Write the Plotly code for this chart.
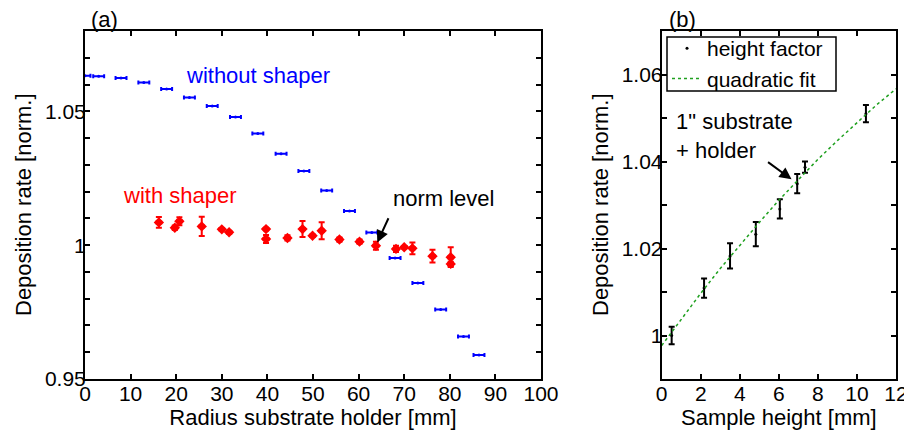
import plotly.graph_objects as go
from plotly.subplots import make_subplots

# (a) deposition rate vs radius, without shaper
radius_no_shaper = [0.0, 3.0, 7.9, 12.9, 17.9, 22.9, 27.9, 33.0, 37.9, 43.0, 48.0, 53.0,
                    58.0, 62.9, 68.0, 73.0, 78.0, 83.0, 86.4]
rate_no_shaper = [1.0633, 1.0631, 1.0624, 1.0608, 1.0583, 1.0552, 1.0520, 1.0479, 1.0417,
                  1.0341, 1.0277, 1.0204, 1.0128, 1.0047, 0.9952, 0.9859, 0.9760, 0.9659, 0.9590]
radius_err_no_shaper = [1.2] * len(radius_no_shaper)

# (a) with shaper
radius_shaper = [16.2, 20.7, 19.7, 25.6, 30.0, 31.6, 39.7, 39.7, 44.4, 47.7, 49.9, 51.9,
                 55.8, 60.2, 63.8, 68.2, 70.0, 71.8, 76.2, 80.2, 80.2]
rate_shaper = [1.0085, 1.0089, 1.0065, 1.0070, 1.0059, 1.0048, 1.0060, 1.0023, 1.0027,
               1.0060, 1.0035, 1.0054, 1.0021, 1.0013, 0.9998, 0.9986, 0.9992, 0.9988,
               0.9959, 0.9955, 0.9930]
rate_err_shaper = [0.0020, 0.0015, 0.0008, 0.0036, 0.0004, 0.0006, 0.0005, 0.0015, 0.0010,
                   0.0030, 0.0004, 0.0032, 0.0008, 0.0008, 0.0015, 0.0012, 0.0004, 0.0022,
                   0.0024, 0.0037, 0.0008]
radius_err_shaper = [0.5] * len(radius_shaper)

# (b) height factor
sample_height = [0.51, 2.17, 3.5, 4.82, 6.05, 6.94, 7.34, 10.46]
height_factor = [1.0000, 1.0109, 1.0183, 1.0233, 1.0291, 1.0349, 1.0387, 1.0510]
height_err = [0.0020, 0.0022, 0.0029, 0.0028, 0.0022, 0.0022, 0.0013, 0.0020]

# (b) quadratic fit
fit_height = [0, 1, 2, 3, 4, 5, 6, 7, 8, 9, 10, 11, 12]
fit_rate = [0.9977, 1.0038, 1.0097, 1.0154, 1.0208, 1.0260, 1.0311, 1.0359, 1.0405,
            1.0448, 1.0490, 1.0530, 1.0567]

# tick labels
a_yticks = [0.95, 0.96, 0.97, 0.98, 0.99, 1.0, 1.01, 1.02, 1.03, 1.04, 1.05, 1.06, 1.07, 1.08]
a_ylabels = ['0.95', '', '', '', '', '1', '', '', '', '', '1.05', '', '', '']
b_yticks = [0.99, 1.0, 1.01, 1.02, 1.03, 1.04, 1.05, 1.06, 1.07]
b_ylabels = ['', '1', '', '1.02', '', '1.04', '', '1.06', '']

FONT = "Liberation Sans, Arial, sans-serif"
W, H = 912, 435
OFF = 8  # page body margin in the browser


def px_x(p):
    return (p - OFF) / W


def px_y(p):
    return 1 - (p - OFF) / H


fig = make_subplots(rows=1, cols=2)

fig.add_trace(go.Scatter(
    x=radius_no_shaper, y=rate_no_shaper, mode='markers',
    marker=dict(color='blue', size=3),
    error_x=dict(type='data', array=radius_err_no_shaper, color='blue', thickness=2, width=2),
    showlegend=False), row=1, col=1)

fig.add_trace(go.Scatter(
    x=radius_shaper, y=rate_shaper, mode='markers',
    marker=dict(color='red', size=8, symbol='diamond'),
    error_x=dict(type='data', array=radius_err_shaper, color='red', thickness=2, width=2),
    error_y=dict(type='data', array=rate_err_shaper, color='red', thickness=2, width=3),
    showlegend=False), row=1, col=1)

fig.add_trace(go.Scatter(
    x=sample_height, y=height_factor, mode='markers', name='height factor',
    marker=dict(color='black', size=3),
    error_y=dict(type='data', array=height_err, color='black', thickness=2, width=3)),
    row=1, col=2)

fig.add_trace(go.Scatter(
    x=fit_height, y=fit_rate, mode='lines', name='quadratic fit',
    line=dict(color='#1fa01f', width=1.5, dash='dot')), row=1, col=2)

axis_style = dict(showline=True, linecolor='black', linewidth=2, mirror='ticks',
                  ticks='inside', ticklen=5, tickwidth=1.5, tickcolor='black',
                  showgrid=False, zeroline=False, automargin=False,
                  tickfont=dict(size=21, color='black'),
                  title_font=dict(size=22, color='black'))

fig.update_xaxes(axis_style)
fig.update_yaxes(axis_style)
fig.update_xaxes(ticklabelstandoff=-5, title_standoff=0)
fig.update_yaxes(ticklabelstandoff=-7)

ydom = [px_y(379), px_y(31)]
fig.update_xaxes(domain=[px_x(85), px_x(541)], range=[0, 100], dtick=10,
                 title_text='Radius substrate holder [mm]', row=1, col=1)
fig.update_yaxes(domain=ydom, range=[0.95, 1.08], tickmode='array',
                 tickvals=a_yticks, ticktext=a_ylabels, row=1, col=1)
fig.update_xaxes(domain=[px_x(661.7), px_x(896)], range=[0, 12], dtick=2,
                 title_text='Sample height [mm]', row=1, col=2)
fig.update_yaxes(domain=ydom, range=[0.99, 1.07], tickmode='array',
                 tickvals=b_yticks, ticktext=b_ylabels, row=1, col=2)

title_font = dict(size=22, color='black')
annotations = [
    # y axis titles
    dict(text='Deposition rate [norm.]', xref='paper', yref='paper', x=px_x(23),
         y=px_y(205), xanchor='center', yanchor='middle', textangle=-90,
         showarrow=False, font=title_font),
    dict(text='Deposition rate [norm.]', xref='paper', yref='paper', x=px_x(600),
         y=px_y(205), xanchor='center', yanchor='middle', textangle=-90,
         showarrow=False, font=title_font),
    # panel labels
    dict(text='(a)', xref='paper', yref='paper', x=px_x(89), y=1, xanchor='left',
         yanchor='top', yshift=3, showarrow=False, font=title_font),
    dict(text='(b)', xref='paper', yref='paper', x=px_x(667), y=1, xanchor='left',
         yanchor='top', yshift=3, showarrow=False, font=title_font),
    dict(text='without shaper', xref='x', yref='y', x=21.6, y=1.0634, xanchor='left',
         showarrow=False, font=dict(size=22, color='blue')),
    dict(text='with shaper', xref='x', yref='y', x=8.0, y=1.0185, xanchor='left',
         showarrow=False, font=dict(size=22, color='red')),
    dict(text='norm level', xref='x', yref='y', x=67.0, y=1.0175, xanchor='left',
         showarrow=False, font=title_font),
    dict(text='', xref='x', yref='y', x=64.1, y=1.001, ax=66.7, ay=1.0106,
         axref='x', ayref='y', showarrow=True, arrowhead=2, arrowsize=1.2,
         arrowwidth=2, arrowcolor='black'),
    dict(text='1" substrate<br>+ holder', xref='x2', yref='y2', x=0.65, y=1.0458,
         xanchor='left', align='left', showarrow=False, font=title_font),
    dict(text='', xref='x2', yref='y2', x=6.65, y=1.0359, ax=5.37, ay=1.0401,
         axref='x2', ayref='y2', showarrow=True, arrowhead=2, arrowsize=1.2,
         arrowwidth=2, arrowcolor='black'),
]

# legend frame drawn as a shape so the entries can sit tight inside it
legend_box = dict(type='rect', xref='paper', yref='paper',
                  x0=px_x(667), x1=px_x(836), y0=px_y(91), y1=px_y(37),
                  line=dict(color='black', width=1.5), fillcolor='rgba(0,0,0,0)')

fig.update_layout(
    width=W, height=H,
    margin=dict(l=0, r=0, t=0, b=0),
    plot_bgcolor='white', paper_bgcolor='white',
    font=dict(family=FONT, size=21, color='black'),
    legend=dict(x=px_x(667), y=px_y(28), xanchor='left', yanchor='top',
                borderwidth=0, bgcolor='rgba(0,0,0,0)',
                font=dict(size=21), tracegroupgap=0, itemwidth=30),
    annotations=annotations,
    shapes=[legend_box],
)

fig.write_html('out.html')
